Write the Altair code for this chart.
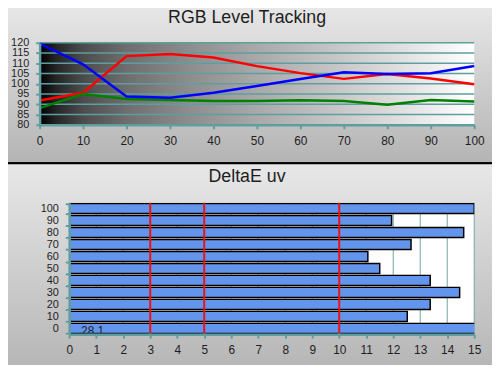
import altair as alt
import pandas as pd

# ---------------- data ----------------
levels = [0, 10, 20, 30, 40, 50, 60, 70, 80, 90, 100]
red = [91.8, 95.6, 113.5, 114.5, 112.8, 108.6, 105.2, 102.4, 104.8, 102.6, 99.8]
green = [88.1, 95.0, 92.6, 92.1, 91.6, 91.6, 92.0, 91.6, 89.8, 92.1, 91.4]
blue = [119.6, 109.5, 93.8, 93.2, 95.6, 98.9, 102.3, 105.6, 104.8, 105.1, 108.7]
rgb_y_ticks = [80, 85, 90, 95, 100, 105, 110, 115, 120]
rgb_x_ticks = [0, 10, 20, 30, 40, 50, 60, 70, 80, 90, 100]

de_levels = [100, 90, 80, 70, 60, 50, 40, 30, 20, 10, 0]
de_values = [15.0, 11.94, 14.61, 12.66, 11.06, 11.5, 13.37, 14.46, 13.37, 12.52, 28.1]
de_x_ticks = list(range(16))
de_thresholds = [3, 5, 10]

# ---------------- styles ----------------
TEAL = "#5f9ea0"
FONT = "Liberation Sans"
TXT = "#1e1e1e"

one = pd.DataFrame({"k": [0]})

panel_fill = {
    "gradient": "linear", "x1": 0, "y1": 0, "x2": 0, "y2": 1,
    "stops": [{"offset": 0, "color": "#e8e8e8"}, {"offset": 1, "color": "#b4b4b4"}],
}
plot_fill = {
    "gradient": "linear", "x1": 0, "y1": 0, "x2": 1, "y2": 0,
    "stops": [
        {"offset": 0.0, "color": "#000000"},
        {"offset": 0.04, "color": "#262626"},
        {"offset": 0.1, "color": "#4c4c4c"},
        {"offset": 0.2, "color": "#6e6e6e"},
        {"offset": 0.35, "color": "#8e8e8e"},
        {"offset": 0.5, "color": "#a9a9a9"},
        {"offset": 0.7, "color": "#c9c9c9"},
        {"offset": 0.85, "color": "#e3e3e3"},
        {"offset": 1.0, "color": "#ffffff"},
    ],
}


def deco_rect(x0, x1, y0, y1, fill, stroke=None):
    kw = dict(fill=fill)
    if stroke:
        kw.update(stroke=stroke, strokeWidth=2)
    return alt.Chart(one).mark_rect(**kw).encode(
        x=alt.value(x0), x2=alt.value(x1), y=alt.value(y0), y2=alt.value(y1)
    )


axis_common = dict(
    title=None, grid=False, labelOverlap=False, domainColor=TEAL, domainWidth=2.5,
    tickColor=TEAL, tickWidth=2, tickSize=4, labelColor=TXT,
    labelFont=FONT, zindex=1,
)

# ---------------- top panel: RGB Level Tracking ----------------
W1, H1 = 440, 83
rgb_df = pd.DataFrame({
    "level": levels * 3,
    "value": red + green + blue,
    "channel": ["R"] * len(levels) + ["G"] * len(levels) + ["B"] * len(levels),
})

x1_enc = alt.X("level:Q", scale=alt.Scale(domain=[0, 100], nice=False, zero=False),
               axis=alt.Axis(values=rgb_x_ticks, labelFlush=False, labelPadding=7,
                             labelFontSize=12, **axis_common))
y1_enc = alt.Y("value:Q", scale=alt.Scale(domain=[80, 120], nice=False, zero=False),
               axis=alt.Axis(values=rgb_y_ticks, labelPadding=7, labelFontSize=11,
                             **axis_common))

top_panel = deco_rect(1 - 40, 499 - 40, 1 - 41, 163 - 41, panel_fill, "black")
top_plotbg = deco_rect(0, W1, 0, H1, plot_fill)
top_grid = alt.Chart(pd.DataFrame({"value": rgb_y_ticks})).mark_rule(
    color=TEAL, strokeWidth=1.5).encode(y=y1_enc)
top_lines = alt.Chart(rgb_df).mark_line(strokeWidth=2.5).encode(
    x=x1_enc, y=y1_enc,
    color=alt.Color("channel:N", scale=alt.Scale(domain=["R", "G", "B"],
                                                  range=["#ff0000", "#008000", "#0000ff"]),
                    legend=None),
)

top = alt.layer(top_panel, top_plotbg, top_grid, top_lines).properties(
    width=W1, height=H1,
    title=alt.TitleParams("RGB Level Tracking", font=FONT, fontSize=18, fontWeight="normal",
                          color=TXT, anchor="middle", frame="bounds", offset=0, dy=25),
)

# ---------------- bottom panel: DeltaE uv ----------------
W2, H2 = 410, 133
de_df = pd.DataFrame({"level": de_levels, "value": de_values})

x2_scale = alt.Scale(domain=[0, 15], nice=False, zero=True)
x2_axis = alt.Axis(values=de_x_ticks, labelFlush=False, labelPadding=7, labelFontSize=12,
                   **axis_common)
x2_enc = alt.X("value:Q", scale=x2_scale, axis=x2_axis)
y2_enc = alt.Y("level:O", sort=de_levels,
               scale=alt.Scale(paddingInner=0.15, paddingOuter=0.05),
               axis=alt.Axis(tickBand="extent", labelPadding=7, labelFontSize=11,
                             **axis_common))

bot_panel = deco_rect(1 - 70, 499 - 70, 163 - 203, 378 - 203, panel_fill, "black")
bot_plotbg = deco_rect(0, W2, 0, H2, "#ffffff")
bot_grid = alt.Chart(pd.DataFrame({"value": de_x_ticks})).mark_rule(
    color="#76a3a3", strokeWidth=1).encode(x=x2_enc)
bars = alt.Chart(de_df).mark_bar(color="#6495ed", stroke="black", strokeWidth=1.5,
                                 clip=True).encode(x=x2_enc, y=y2_enc)
thresh = alt.Chart(pd.DataFrame({"value": de_thresholds})).mark_rule(
    color="#ee1111", strokeWidth=2).encode(x=x2_enc)
over = alt.Chart(de_df[de_df["value"] > 15]).mark_text(
    align="left", baseline="middle", dx=12, dy=3, fontSize=12, font=FONT, color=TXT
).encode(x=alt.X(datum=0, scale=x2_scale, axis=x2_axis), y=y2_enc,
         text=alt.Text("value:Q", format=".1f"))

bottom = alt.layer(bot_panel, bot_plotbg, bot_grid, bars, thresh, over).properties(
    width=W2, height=H2,
    title=alt.TitleParams("DeltaE uv", font=FONT, fontSize=18, fontWeight="normal",
                          color=TXT, anchor="middle", frame="bounds", offset=0, dy=24),
)

spacer = alt.Chart(one).mark_point(opacity=0, size=1).encode(
    x=alt.value(0), y=alt.value(0)).properties(width=30, height=H2)

chart = alt.vconcat(
    top,
    alt.hconcat(spacer, bottom, spacing=0, bounds="flush"),
    spacing=79, bounds="flush",
).properties(
    padding={"left": -8, "top": -8, "right": -2, "bottom": -14},
).configure(font=FONT).configure_view(stroke=None)

chart.save("out.html", embed_options={"renderer": "svg", "actions": False})
